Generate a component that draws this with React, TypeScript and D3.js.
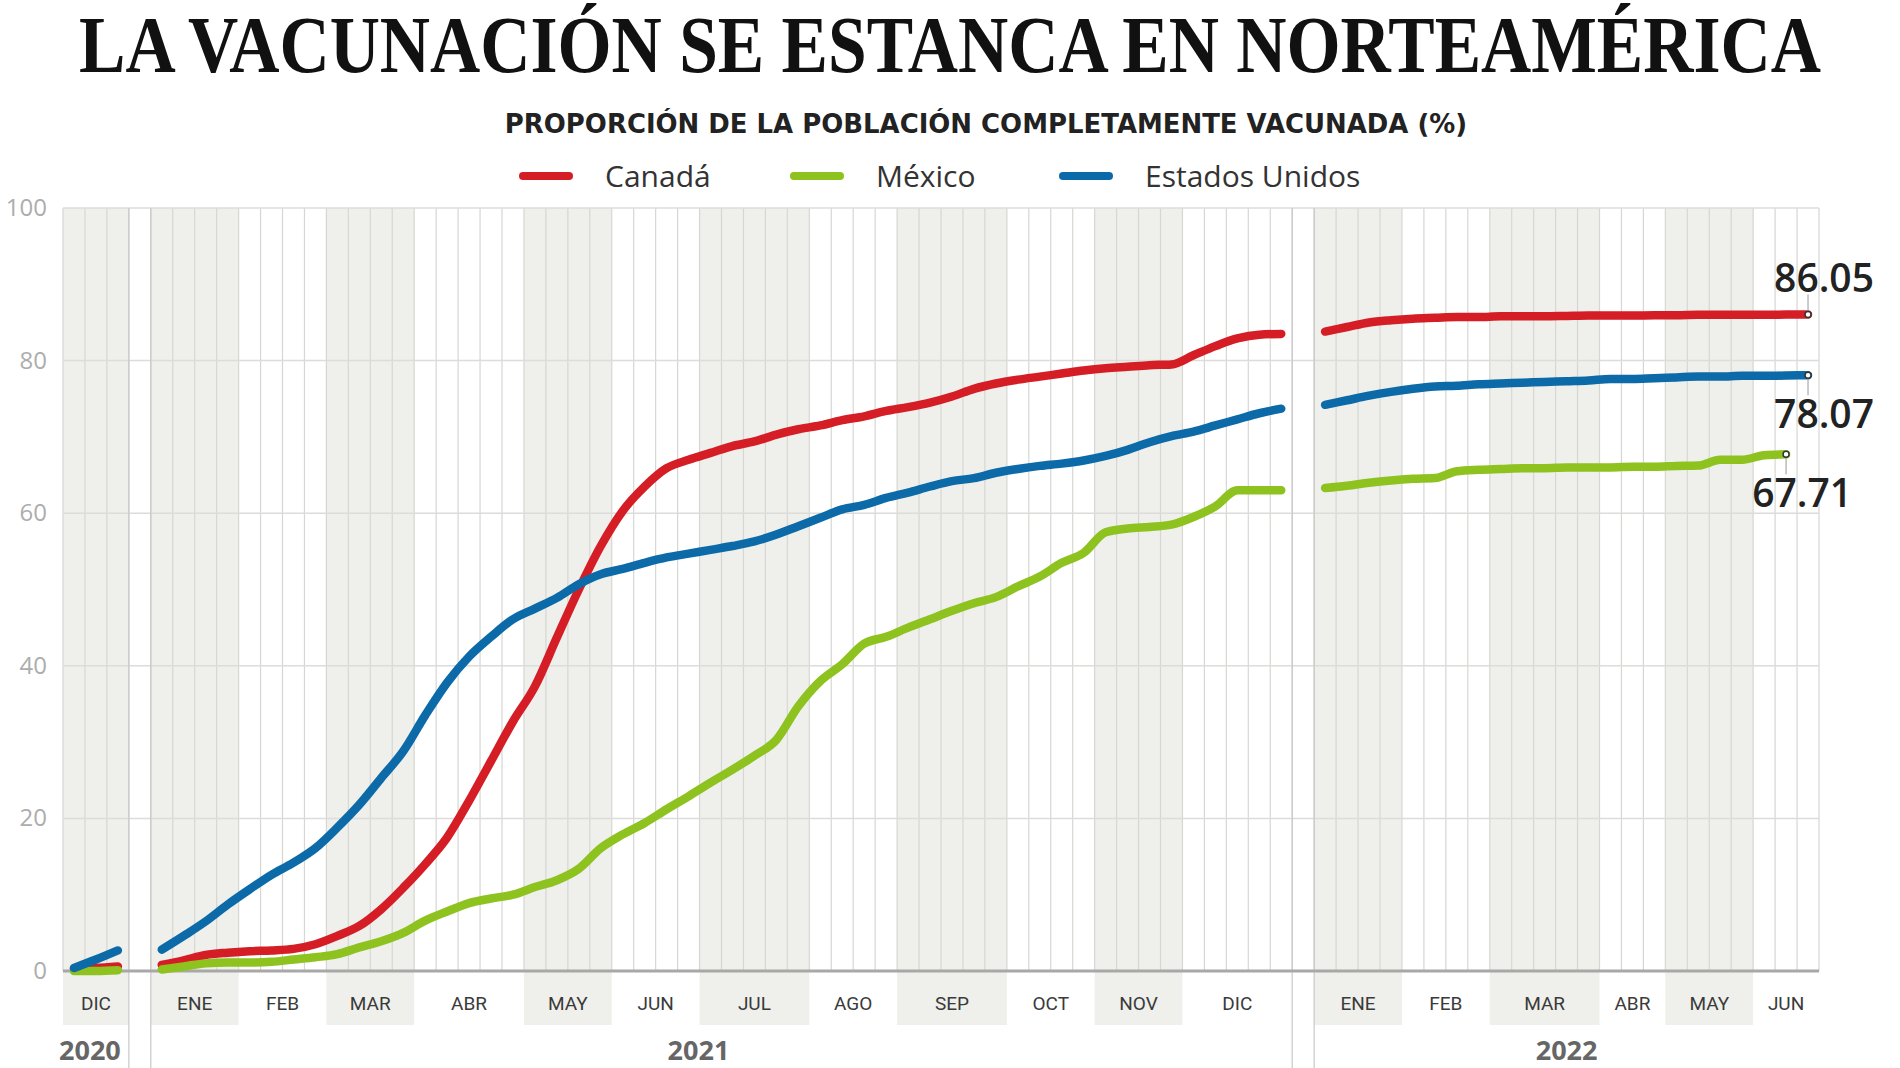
import React, { useLayoutEffect, useRef, useState } from "react";
import * as d3 from "d3";

// ---------- DATA ----------
const TITLE = "LA VACUNACIÓN SE ESTANCA EN NORTEAMÉRICA";
const SUBTITLE = "PROPORCIÓN DE LA POBLACIÓN COMPLETAMENTE VACUNADA (%)";

const years = ["2020", "2021", "2022"];
const monthsByYear = [
  ["DIC"],
  ["ENE", "FEB", "MAR", "ABR", "MAY", "JUN", "JUL", "AGO", "SEP", "OCT", "NOV", "DIC"],
  ["ENE", "FEB", "MAR", "ABR", "MAY", "JUN"],
];
// weekly columns per month
const weeksByYear = [
  [3],
  [4, 4, 4, 5, 4, 4, 5, 4, 5, 4, 4, 5],
  [4, 4, 5, 3, 4, 3],
];

const yTicks = [0, 20, 40, 60, 80, 100];

const seriesNames = ["Canadá", "México", "Estados Unidos"];

// weekly values (% fully vaccinated), one array per year block
const canada2020 = [0.3, 0.4, 0.6];
const canada2021 = [
  0.8, 1.4, 2.1, 2.4,
  2.6, 2.7, 2.9, 3.5,
  4.6, 5.9, 8.1, 10.9,
  14.0, 17.5, 22.3, 27.5, 32.7,
  37.3, 43.7, 50.0, 55.7,
  60.3, 63.5, 65.9, 67.0,
  67.9, 68.8, 69.4, 70.3, 71.0,
  71.5, 72.2, 72.7, 73.4,
  73.9, 74.5, 75.3, 76.3, 77.0,
  77.5, 77.9, 78.3, 78.7,
  79.0, 79.2, 79.4, 79.5,
  80.7, 81.9, 82.9, 83.4, 83.5,
];
const canada2022 = [
  83.8, 84.4, 85.0, 85.3,
  85.5, 85.6, 85.7, 85.7,
  85.8, 85.8, 85.8, 85.85, 85.9,
  85.9, 85.9, 85.95,
  85.95, 86.0, 86.0, 86.0,
  86.0, 86.03, 86.05,
];

const mexico2020 = [0.0, 0.0, 0.1];
const mexico2021 = [
  0.2, 0.6, 1.0, 1.1,
  1.1, 1.2, 1.5, 1.8,
  2.2, 3.1, 3.9, 5.0,
  6.6, 7.8, 8.9, 9.5, 10.0,
  11.0, 11.9, 13.4, 16.1,
  17.9, 19.4, 21.2, 22.9,
  24.7, 26.4, 28.2, 30.3, 34.7,
  38.0, 40.2, 42.9, 43.8,
  45.0, 46.1, 47.2, 48.2, 49.0,
  50.4, 51.7, 53.5, 54.8,
  57.5, 58.0, 58.2, 58.5,
  59.5, 60.9, 63.0, 63.0, 63.0,
];
const mexico2022 = [
  63.3, 63.6, 64.0, 64.3,
  64.5, 64.6, 65.5, 65.7,
  65.8, 65.9, 65.9, 66.0, 66.0,
  66.0, 66.1, 66.1,
  66.2, 66.25, 67.0, 67.0,
  67.6, 67.71,
];

const usa2020 = [0.4, 1.5, 2.7];
const usa2021 = [
  2.8, 4.6, 6.5, 8.7,
  10.7, 12.6, 14.2, 16.1,
  18.8, 21.8, 25.3, 28.8,
  33.5, 37.8, 41.2, 43.8, 46.1,
  47.5, 48.9, 50.7, 52.0,
  52.7, 53.5, 54.2, 54.7,
  55.2, 55.7, 56.3, 57.2, 58.3,
  59.4, 60.5, 61.1, 62.0,
  62.7, 63.5, 64.2, 64.6, 65.3,
  65.8, 66.2, 66.5, 66.9,
  67.5, 68.3, 69.3, 70.1,
  70.7, 71.5, 72.3, 73.1, 73.7,
];
const usa2022 = [
  74.2, 74.8, 75.4, 75.9,
  76.3, 76.6, 76.7, 76.9,
  77.0, 77.1, 77.2, 77.3, 77.4,
  77.6, 77.6, 77.7,
  77.8, 77.9, 77.9, 78.0,
  78.0, 78.05, 78.07,
];

const endLabels = ["86.05", "67.71", "78.07"];

// ---------- STYLE ----------
const COLORS = ["#d51d25", "#8dc21f", "#0b6aa7"];
const SHADE = "#efefeb";
const W = 1900;
const H = 1068;
const PLOT = { left: 63, right: 1819, top: 208, bottom: 971 };
const TITLE_WIDTH = 1742;
const SUB_WIDTH = 962;

function FittedText(props: {
  text: string;
  cx: number;
  y: number;
  width: number;
  fontFamily: string;
  fontSize: number;
  fontWeight: number;
  fill: string;
}) {
  const ref = useRef<SVGTextElement>(null);
  const [sx, setSx] = useState(0.8);
  useLayoutEffect(() => {
    if (ref.current) {
      const w = ref.current.getComputedTextLength();
      if (w > 0) setSx(props.width / w);
    }
  }, [props.text, props.width]);
  return (
    <g transform={`translate(${props.cx},${props.y}) scale(${sx},1)`}>
      <text
        ref={ref}
        x={0}
        y={0}
        textAnchor="middle"
        fontFamily={props.fontFamily}
        fontWeight={props.fontWeight}
        fontSize={props.fontSize}
        fill={props.fill}
      >
        {props.text}
      </text>
    </g>
  );
}

export default function App() {
  // layout of weekly columns
  const blocks: { year: string; start: number; n: number; months: { label: string; start: number; n: number; shaded: boolean }[] }[] = [];
  let col = 0;
  years.forEach((yr, yi) => {
    const start = col;
    const months = monthsByYear[yi].map((m, mi) => {
      const s = col;
      col += weeksByYear[yi][mi];
      return { label: m, start: s, n: weeksByYear[yi][mi], shaded: mi % 2 === 0 };
    });
    blocks.push({ year: yr, start, n: col - start, months });
    if (yi < years.length - 1) col += 1; // blank separator column
  });
  const totalCols = col;

  const x = d3.scaleLinear().domain([0, totalCols]).range([PLOT.left, PLOT.right]);
  const y = d3.scaleLinear().domain([0, 100]).range([PLOT.bottom, PLOT.top]);

  const seriesData = [
    [canada2020, canada2021, canada2022],
    [mexico2020, mexico2021, mexico2022],
    [usa2020, usa2021, usa2022],
  ];

  const line = d3
    .line<[number, number]>()
    .x((d) => x(d[0]))
    .y((d) => y(d[1]))
    .curve(d3.curveMonotoneX);

  const segs = seriesData.map((perYear) =>
    perYear.map((vals, yi) => vals.map((v, i) => [blocks[yi].start + i + 0.5, v] as [number, number]))
  );

  const colLines = d3.range(0, totalCols + 1);
  const sepCols = blocks.slice(1).flatMap((b) => [b.start - 1, b.start]);

  const yearShift = [-6, -23, 0];

  // end labels: canada above, mexico below, usa below
  const labelPlacement = ["above", "below", "below"];

  // legend layout
  const legendX = [523, 794, 1063];

  return (
    <svg width={W} height={H} style={{ position: "absolute", left: 0, top: 0, background: "#fff" }}>
      {/* title */}
      <FittedText
        text={TITLE}
        cx={W / 2}
        y={72}
        width={TITLE_WIDTH}
        fontFamily="'Liberation Serif', 'DejaVu Serif', serif"
        fontWeight={700}
        fontSize={80}
        fill="#111"
      />
      <FittedText
        text={SUBTITLE}
        cx={986}
        y={133}
        width={SUB_WIDTH}
        fontFamily="'DejaVu Sans', sans-serif"
        fontWeight={700}
        fontSize={27}
        fill="#222"
      />

      {/* legend */}
      {seriesNames.map((name, i) => (
        <g key={name}>
          <line
            x1={legendX[i]}
            x2={legendX[i] + 46}
            y1={176}
            y2={176}
            stroke={COLORS[i]}
            strokeWidth={8}
            strokeLinecap="round"
          />
          <text
            x={legendX[i] + 82}
            y={187}
            fontFamily="'Open Sans', sans-serif"
            fontSize={30}
            fill="#333"
          >
            {name}
          </text>
        </g>
      ))}

      {/* shaded months (extend into label band) */}
      {blocks.flatMap((b) =>
        b.months
          .filter((m) => m.shaded)
          .map((m) => (
            <rect
              key={b.year + m.label}
              x={x(m.start)}
              y={PLOT.top}
              width={x(m.start + m.n) - x(m.start)}
              height={1025 - PLOT.top}
              fill={SHADE}
            />
          ))
      )}

      {/* weekly vertical grid */}
      {colLines.map((c) => (
        <line key={"v" + c} x1={x(c)} x2={x(c)} y1={PLOT.top} y2={PLOT.bottom} stroke="#d6d6d3" strokeWidth={1.2} />
      ))}

      {/* horizontal grid */}
      {yTicks
        .filter((t) => t > 0)
        .map((t) => (
          <line key={"h" + t} x1={PLOT.left} x2={PLOT.right} y1={y(t)} y2={y(t)} stroke="#dcdcda" strokeWidth={1.5} />
        ))}

      {/* year separators */}
      {sepCols.map((c) => (
        <line key={"s" + c} x1={x(c)} x2={x(c)} y1={PLOT.top} y2={H} stroke="#c8c8c8" strokeWidth={1.2} />
      ))}

      {/* baseline */}
      <line x1={PLOT.left} x2={PLOT.right} y1={y(0)} y2={y(0)} stroke="#a8a8a8" strokeWidth={3} />

      {/* y tick labels */}
      {yTicks.map((t) => (
        <text
          key={"yt" + t}
          x={47}
          y={y(t) + 8}
          textAnchor="end"
          fontFamily="'Open Sans', sans-serif"
          fontSize={24}
          fill="#adadad"
        >
          {t}
        </text>
      ))}

      {/* month labels */}
      {blocks.flatMap((b) =>
        b.months.map((m) => (
          <text
            key={"ml" + b.year + m.label}
            x={(x(m.start) + x(m.start + m.n)) / 2}
            y={1010}
            textAnchor="middle"
            fontFamily="Roboto, sans-serif"
            fontSize={19}
            fill="#3a3a3a"
          >
            {m.label}
          </text>
        ))
      )}

      {/* year labels */}
      {blocks.map((b, i) => (
        <text
          key={"yl" + b.year}
          x={(x(b.start) + x(b.start + b.n)) / 2 + yearShift[i]}
          y={1060}
          textAnchor="middle"
          fontFamily="'Open Sans', sans-serif"
          fontWeight={700}
          fontSize={27}
          fill="#666"
        >
          {b.year}
        </text>
      ))}

      {/* series lines */}
      {segs.map((perYear, si) =>
        perYear.map((pts, yi) => (
          <path
            key={"l" + si + "_" + yi}
            d={line(pts) || ""}
            fill="none"
            stroke={COLORS[si]}
            strokeWidth={8.5}
            strokeLinecap="round"
            strokeLinejoin="round"
          />
        ))
      )}

      {/* end markers + labels */}
      {segs.map((perYear, si) => {
        const pts = perYear[perYear.length - 1];
        const last = pts[pts.length - 1];
        const cx = x(last[0]);
        const cy = y(last[1]);
        const above = labelPlacement[si] === "above";
        return (
          <g key={"e" + si}>
            <line
              x1={cx}
              x2={cx}
              y1={cy}
              y2={above ? cy - 20 : cy + 20}
              stroke="#999"
              strokeWidth={1}
            />
            <circle cx={cx} cy={cy} r={3} fill="#fff" stroke="#333" strokeWidth={1.5} />
            <text
              x={cx + 16}
              y={above ? cy - 22 : cy + 53}
              textAnchor="middle"
              fontFamily="'Open Sans', sans-serif"
              fontWeight={600}
              fontSize={39}
              fill="#222"
            >
              {endLabels[si]}
            </text>
          </g>
        );
      })}
    </svg>
  );
}
